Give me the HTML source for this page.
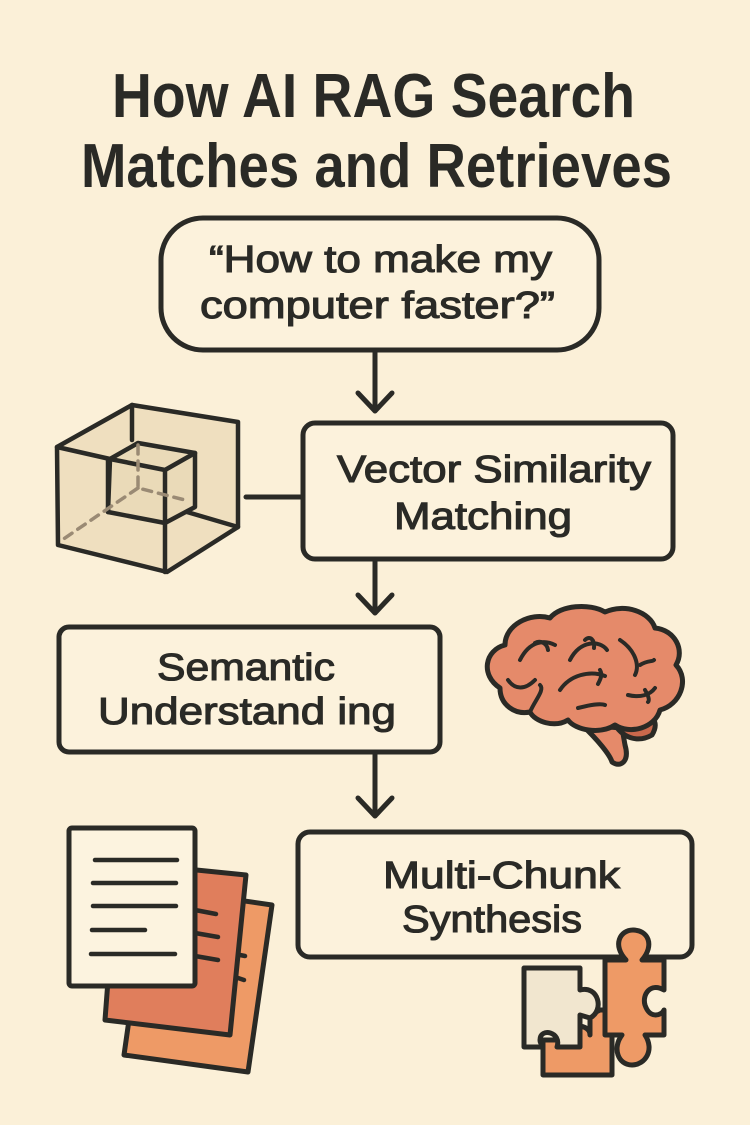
<!DOCTYPE html>
<html><head><meta charset="utf-8"><style>
html,body{margin:0;padding:0;background:#fbf0d8;}
svg{display:block}
text{font-family:"Liberation Sans","DejaVu Sans",sans-serif;fill:#2a2a26;}
.b{stroke:#2a2a26;stroke-width:1.1;}
</style></head><body>
<svg width="750" height="1125" viewBox="0 0 750 1125" xmlns="http://www.w3.org/2000/svg">
<rect width="750" height="1125" fill="#fbf0d8"/>
<!-- title -->
<text x="112" y="117" font-size="62" font-weight="bold" textLength="523" lengthAdjust="spacingAndGlyphs">How AI RAG Search</text>
<text x="81" y="187" font-size="62" font-weight="bold" textLength="591" lengthAdjust="spacingAndGlyphs">Matches and Retrieves</text>

<g fill="none" stroke="#2a2a26" stroke-width="5" stroke-linecap="round" stroke-linejoin="round">
<rect x="161" y="218" width="438" height="132" rx="42" fill="#fcf2dc"/>
<line x1="375" y1="350" x2="375" y2="410"/>
<polyline points="358,393 375,411 392,393"/>
<rect x="303" y="423" width="370" height="136" rx="12" fill="#fcf2dc"/>
<line x1="246" y1="497" x2="303" y2="497"/>
<line x1="375" y1="559" x2="375" y2="612"/>
<polyline points="358,595 375,613 392,595"/>
<rect x="59" y="627" width="381" height="125" rx="10" fill="#fcf2dc"/>
<line x1="375" y1="752" x2="375" y2="815"/>
<polyline points="358,798 375,816 392,798"/>
<rect x="298" y="832" width="394" height="125" rx="12" fill="#fcf2dc"/>
</g>

<text class="b" x="209" y="272" font-size="38" textLength="343" lengthAdjust="spacingAndGlyphs">“How to make my</text>
<text class="b" x="200" y="318" font-size="38" textLength="355" lengthAdjust="spacingAndGlyphs">computer faster?”</text>
<text class="b" x="337" y="482" font-size="38" textLength="314" lengthAdjust="spacingAndGlyphs">Vector Similarity</text>
<text class="b" x="394" y="529" font-size="38" textLength="178" lengthAdjust="spacingAndGlyphs">Matching</text>
<text class="b" x="157" y="680" font-size="38" textLength="178" lengthAdjust="spacingAndGlyphs">Semantic</text>
<text class="b" x="98" y="724" font-size="38" textLength="298" lengthAdjust="spacingAndGlyphs">Understand ing</text>
<text class="b" x="383" y="888" font-size="38" textLength="237" lengthAdjust="spacingAndGlyphs">Multi-Chunk</text>
<text class="b" x="402" y="932" font-size="38" textLength="180" lengthAdjust="spacingAndGlyphs">Synthesis</text>

<!-- cube -->
<g stroke="#2a2a26" stroke-width="4.5" stroke-linejoin="round" stroke-linecap="round">
<polygon points="57,447 132,405 238,422 238,527 167,572 58,545" fill="#efdfbf"/>
<polygon points="110,459 138,443 195,453 195,507 165,523 108,512" fill="#eadab8"/>
<g fill="none">
<polyline points="57,447 110,459 165,470 195,453"/>
<polyline points="132,405 132,440"/>
<line x1="165" y1="470" x2="165" y2="572"/>
<line x1="108" y1="459" x2="108" y2="512"/>
<line x1="187" y1="512" x2="238" y2="527"/>
</g>
<g fill="none" stroke="#9a8a74" stroke-width="3.5" stroke-dasharray="9,7">
<polyline points="138,445 138,488 185,500"/>
<line x1="138" y1="488" x2="62" y2="540"/>
</g>
</g>

<!-- brain -->
<g stroke="#2a2a26" stroke-width="5" stroke-linejoin="round" stroke-linecap="round">
<path d="M582,725 C598,740 610,755 612,762 C620,768 630,762 625,745 L622,728 Z" fill="#e58a6a"/>
<path d="M615,725 C625,740 640,742 652,735 C658,725 655,718 648,716 Z" fill="#c9684c"/>
<path d="M500,688 C480,675 485,650 505,645 C505,625 530,612 550,618 C560,605 590,603 605,612 C625,603 650,612 655,628 C675,630 685,650 676,665 C690,680 680,705 660,710 C655,728 630,735 615,725 C600,735 575,730 568,720 C555,728 535,722 530,712 C515,715 500,705 500,688 Z" fill="#e58a6a"/>
<g fill="none" stroke-width="4">
<path d="M520,660 C530,640 545,640 555,645"/><path d="M535,643 C540,640 547,643 548,650"/>
<path d="M570,660 C580,640 600,640 607,650"/><path d="M585,640 C590,635 595,640 594,648"/>
<path d="M620,640 C635,650 640,665 635,675"/><path d="M640,665 C648,660 652,662 654,660"/>
<path d="M560,690 C570,675 590,670 605,676"/><path d="M600,670 C603,675 600,680 598,684"/>
<path d="M508,680 C515,690 525,690 535,680"/>
<path d="M578,708 C590,705 600,703 605,705"/>
<path d="M628,695 C640,698 650,695 655,688"/><path d="M645,690 C648,695 650,700 648,702"/>
<path d="M530,712 C535,700 545,690 540,685"/>
</g>
</g>

<!-- documents -->
<g stroke="#2a2a26" stroke-width="5" stroke-linejoin="round">
<polygon points="148,887 272,905 248,1072 124,1055" fill="#ee9a66"/>
<polygon points="117,862 246,875 230,1035 105,1020" fill="#e07e5c"/>
<rect x="69" y="828" width="126" height="158" rx="3" fill="#fcf3df"/>
<g stroke-width="4.5" stroke-linecap="round" fill="none">
<line x1="95" y1="860" x2="177" y2="860"/><line x1="93" y1="883" x2="176" y2="883"/>
<line x1="93" y1="906" x2="176" y2="906"/><line x1="92" y1="930" x2="145" y2="930"/>
<line x1="91" y1="954" x2="175" y2="954"/>
<line x1="195" y1="910" x2="216" y2="914"/><line x1="195" y1="933" x2="218" y2="937"/>
<line x1="195" y1="956" x2="218" y2="960"/>
<line x1="240" y1="955" x2="245" y2="956"/><line x1="238" y1="978" x2="244" y2="980"/>
</g>
</g>

<!-- puzzle -->
<g stroke="#2a2a26" stroke-width="5" stroke-linejoin="round">
<path d="M543,1070 L543,1040 L555,1040 C555,1025 590,1020 590,1035 L590,1015 L600,1010 L612,1010 L612,1075 L543,1075 Z" fill="#ee9a66"/>
<path d="M605,960 L626,960 C612,945 620,930 633,930 C648,930 655,945 642,960 L664,960 L664,990 C650,982 642,995 645,1005 C650,1020 662,1015 664,1010 L664,1035 L645,1035 C655,1050 645,1065 632,1065 C618,1065 612,1048 622,1035 L605,1035 Z" fill="#ee9a66"/>
<path d="M524,1012 L524,968 L580,968 L580,990 C598,985 605,1010 590,1018 L580,1015 L580,1047 L557,1047 C562,1032 540,1027 540,1040 C540,1045 545,1047 542,1047 L524,1047 Z" fill="#f1e6cf"/>
</g>
</svg>
</body></html>
